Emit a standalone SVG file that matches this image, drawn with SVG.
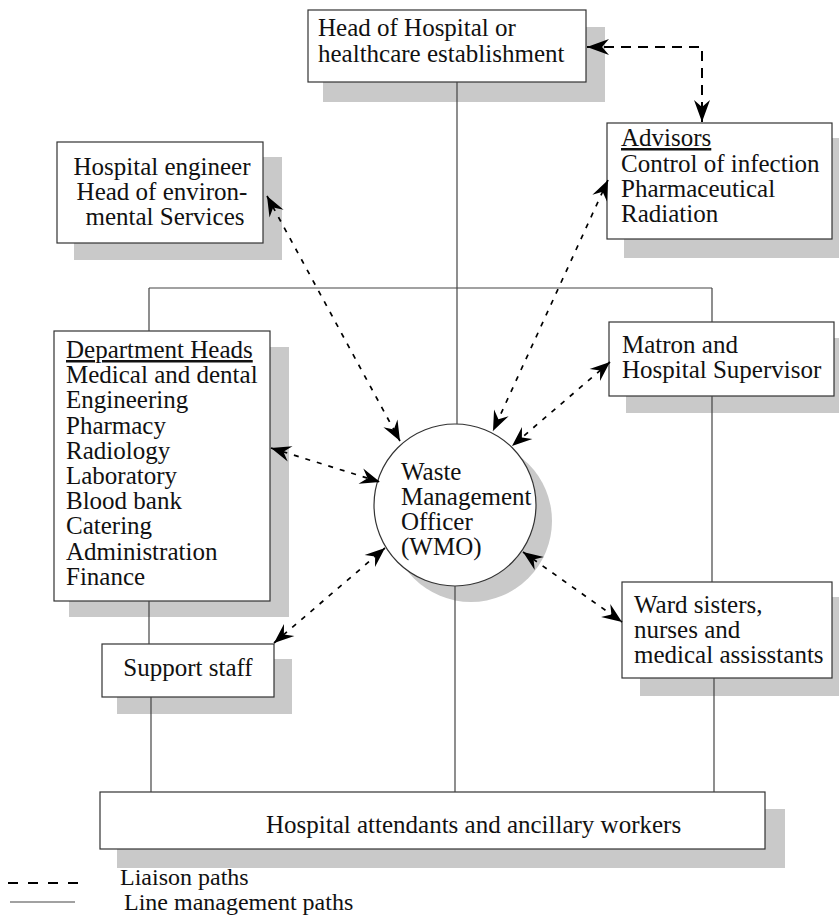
<svg xmlns="http://www.w3.org/2000/svg" width="839" height="920" viewBox="0 0 839 920">
<style>
.sh{fill:#c9c9c9;stroke:none}
.bx{fill:#fff;stroke:#333;stroke-width:1.2}
text{font-family:'Liberation Serif','Times New Roman',Times,'DejaVu Serif',serif;font-size:25px;fill:#111}
.lm{stroke:#444;stroke-width:1.2;fill:none}
.li{stroke:#000;stroke-width:1.7;fill:none;stroke-dasharray:5 7;marker-start:url(#ah);marker-end:url(#ah)}
.li2{stroke:#000;stroke-width:2;fill:none;stroke-dasharray:10 7;marker-start:url(#ahb);marker-end:url(#ahb)}
</style>
<defs>
<marker id="ah" viewBox="-22 -9 24 18" refX="0" refY="0" markerWidth="24" markerHeight="18" markerUnits="userSpaceOnUse" orient="auto-start-reverse">
<path d="M0,0 L-20,-8 L-13,0 L-20,8 Z" fill="#000"/>
</marker>
<marker id="ahb" viewBox="-24 -9 26 18" refX="0" refY="0" markerWidth="26" markerHeight="18" markerUnits="userSpaceOnUse" orient="auto-start-reverse">
<path d="M0,0 L-22,-8 L-15,0 L-22,8 Z" fill="#000"/>
</marker>
</defs>
<rect width="839" height="920" fill="#fff"/>
<g font-family="Liberation Serif, serif" font-size="25">
<g id="head">
<rect class="sh" x="323" y="27" width="282" height="75"/>
<rect class="bx" x="308" y="10" width="278" height="72"/>
<text x="318" y="36">Head of Hospital or</text>
<text x="318" y="62">healthcare establishment</text>
</g>

<g id="engineer">
<rect class="sh" x="74" y="157" width="208" height="103"/>
<rect class="bx" x="57" y="142" width="206" height="101"/>
<text x="162" y="175" text-anchor="middle">Hospital engineer</text>
<text x="162" y="200" text-anchor="middle">Head of environ-</text>
<text x="165" y="225" text-anchor="middle">mental Services</text>
</g>

<g id="advisors">
<rect class="sh" x="624" y="138" width="226" height="120"/>
<rect class="bx" x="607" y="123" width="225" height="116"/>
<text x="621" y="146" text-decoration="underline">Advisors</text>
<text x="621" y="171.5">Control of infection</text>
<text x="621" y="197">Pharmaceutical</text>
<text x="621" y="222">Radiation</text>
</g>

<g id="depts">
<rect class="sh" x="69" y="347" width="220" height="270"/>
<rect class="bx" x="54" y="331" width="216" height="270"/>
<text x="66" y="358" text-decoration="underline">Department Heads</text>
<text x="66" y="383.2">Medical and dental</text>
<text x="66" y="408.4">Engineering</text>
<text x="66" y="433.6">Pharmacy</text>
<text x="66" y="458.8">Radiology</text>
<text x="66" y="484">Laboratory</text>
<text x="66" y="509.2">Blood bank</text>
<text x="66" y="534.4">Catering</text>
<text x="66" y="559.6">Administration</text>
<text x="66" y="584.8">Finance</text>
</g>

<g id="matron">
<rect class="sh" x="626" y="338" width="226" height="75"/>
<rect class="bx" x="609" y="322" width="225" height="74"/>
<text x="622" y="353">Matron and</text>
<text x="622" y="378">Hospital Supervisor</text>
</g>

<g id="wmo">
<circle class="sh" cx="471" cy="521" r="81"/>
<circle class="bx" cx="455" cy="505" r="81"/>
<text x="401" y="479.5">Waste</text>
<text x="401" y="504.5">Management</text>
<text x="401" y="529.5">Officer</text>
<text x="401" y="554.5">(WMO)</text>
</g>

<g id="ward">
<rect class="sh" x="640" y="597" width="210" height="99"/>
<rect class="bx" x="622" y="582" width="210" height="96"/>
<text x="634" y="613">Ward sisters,</text>
<text x="634" y="638">nurses and</text>
<text x="634" y="663">medical assisstants</text>
</g>

<g id="support">
<rect class="sh" x="117" y="659" width="175" height="55"/>
<rect class="bx" x="102" y="644" width="172" height="53"/>
<text x="188" y="676" text-anchor="middle">Support staff</text>
</g>

<g id="attendants">
<rect class="sh" x="117" y="809" width="668" height="59"/>
<rect class="bx" x="100" y="792" width="665" height="57"/>
<text x="266" y="833">Hospital attendants and ancillary workers</text>
</g>

<g id="connectors">
<path class="lm" d="M457,82 V424"/>
<path class="lm" d="M149,288 H712"/>
<path class="lm" d="M149,288 V331"/>
<path class="lm" d="M712,288 V322"/>
<path class="lm" d="M149,601 V644"/>
<path class="lm" d="M151,697 V792"/>
<path class="lm" d="M455,586 V792"/>
<path class="lm" d="M712,396 V582"/>
<path class="lm" d="M714,678 V792"/>
<path class="li2" d="M587,47 H702 V122"/>
<path class="li" d="M267,196 L400,441"/>
<path class="li" d="M608,180 L493,431"/>
<path class="li" d="M610,362 L512,446"/>
<path class="li" d="M271,448 L380,482"/>
<path class="li" d="M274,643 L385,548"/>
<path class="li" d="M523,552 L622,622"/>
</g>

<g id="legend">
<path d="M8,883 H78" stroke="#000" stroke-width="2" stroke-dasharray="10 10" fill="none"/>
<text x="120" y="885" font-size="24" style="font-size:24px">Liaison paths</text>
<path d="M10,902 H75" stroke="#444" stroke-width="1.2" fill="none"/>
<text x="124" y="910" font-size="24" style="font-size:24px">Line management paths</text>
</g>
</g>
</svg>
